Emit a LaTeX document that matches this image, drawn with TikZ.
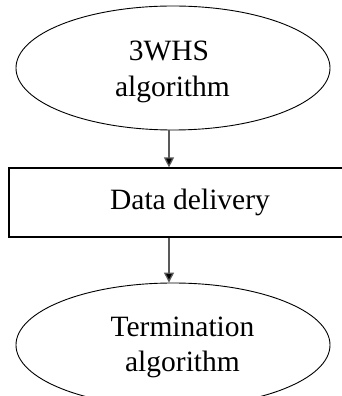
\documentclass[tikz,border=0pt]{standalone}
\usepackage{fontspec}
\setmainfont{Liberation Serif}
\usetikzlibrary{shapes.geometric,arrows.meta}
\tikzset{
  oval/.style={draw=black, line width=0.9pt, ellipse, minimum width=314pt, minimum height=124pt, inner sep=0pt},
  stepbox/.style={draw=black, line width=1.2pt, rectangle, minimum width=366pt, minimum height=69pt, inner sep=0pt},
  lbl/.style={font=\fontsize{29.5pt}{35pt}\selectfont, anchor=base, inner sep=0pt},
  arr/.style={draw=black!65, line width=1.3pt, -{Triangle[length=10pt,width=10pt,fill=black]}}
}
\begin{document}
\begin{tikzpicture}[x=1pt,y=1pt]
  \useasboundingbox (0,0) rectangle (342,396);
  % start state
  \node[oval] (top) at (173,328) {};
  \node[lbl] (t1) at (169,335) {3WHS};
  \node[lbl] (t2) at (172.5,299) {algorithm};
  % data phase
  \node[stepbox] (box) at (192,193.5) {};
  \node[lbl] (b1) at (190,186) {Data delivery};
  % end state
  \node[oval] (bot) at (173,51) {};
  \node[lbl] (e1) at (182.5,59) {Termination};
  \node[lbl] (e2) at (182.5,24) {algorithm};
  % flow
  \draw[arr] ([xshift=-4pt]top.south) -- ([xshift=-4pt]top.south |- box.north);
  \draw[arr] ([xshift=-4pt]bot.north |- box.south) -- ([xshift=-4pt]bot.north);
\end{tikzpicture}
\end{document}
